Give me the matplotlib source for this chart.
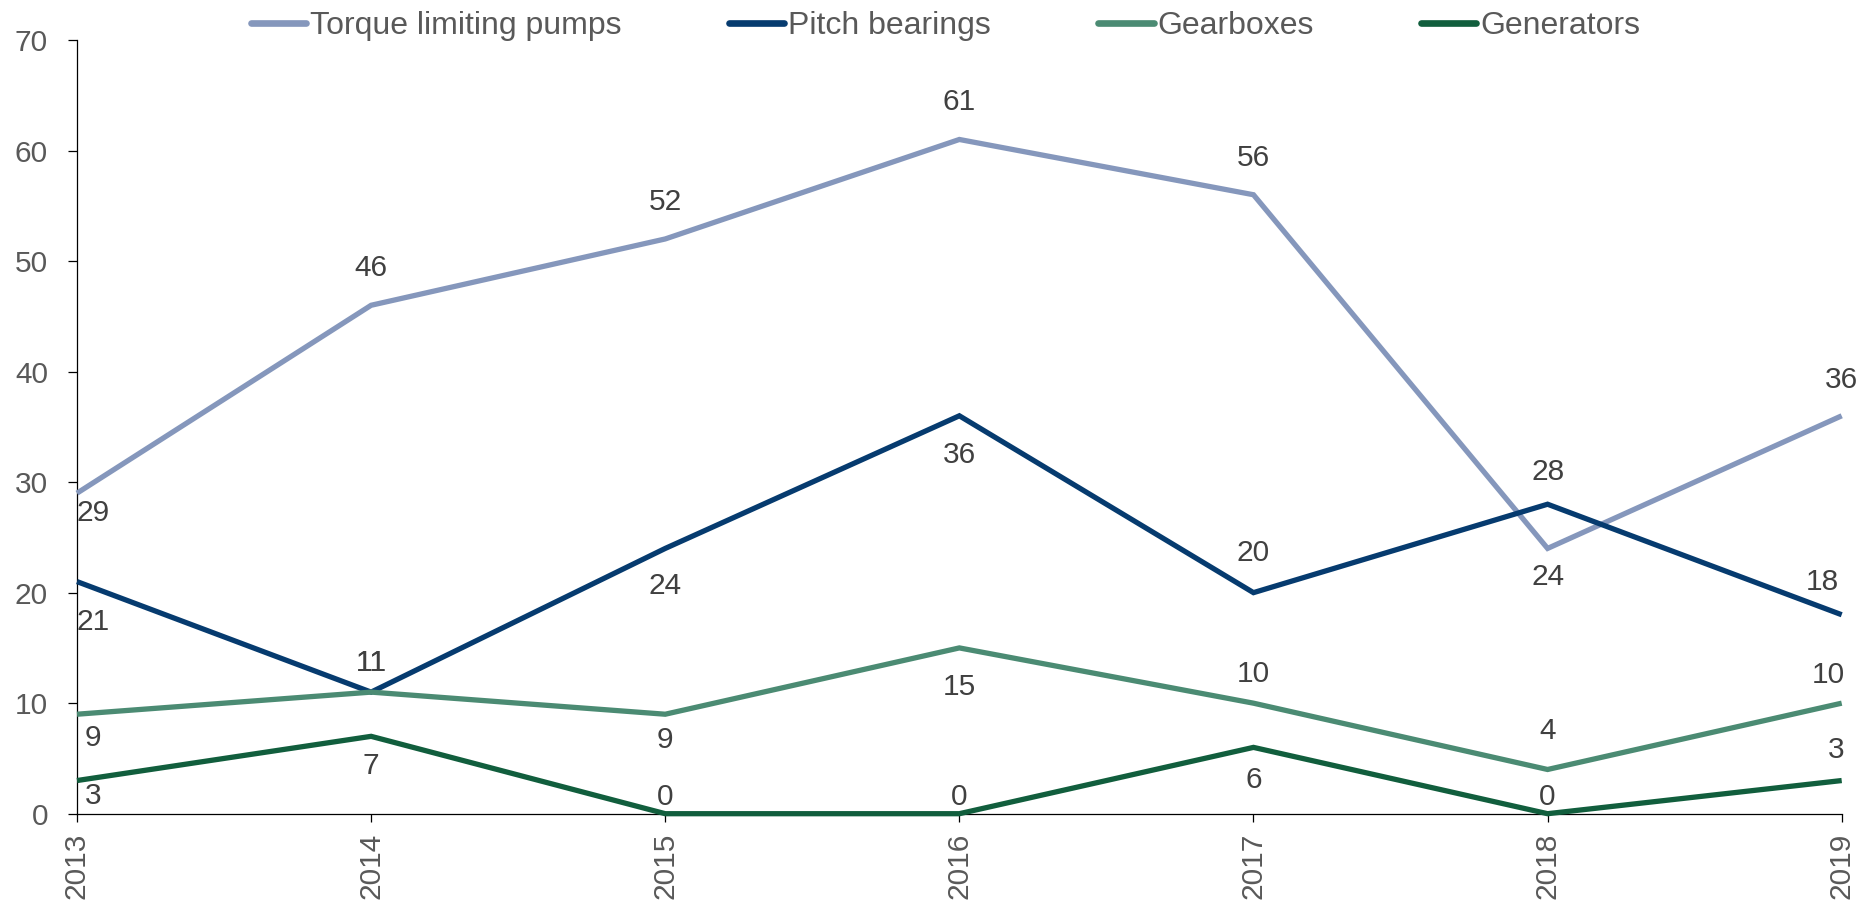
import matplotlib
matplotlib.use("Agg")
import matplotlib.pyplot as plt

plt.rcParams["font.family"] = ["Liberation Sans", "DejaVu Sans"]

# Component failure counts by year
years = [2013, 2014, 2015, 2016, 2017, 2018, 2019]
torque_pumps = [29, 46, 52, 61, 56, 24, 36]
pitch_bearings = [21, 11, 24, 36, 20, 28, 18]
gearboxes = [9, 11, 9, 15, 10, 4, 10]
generators = [3, 7, 0, 0, 6, 0, 3]

series_names = ["Torque limiting pumps", "Pitch bearings", "Gearboxes", "Generators"]
series_values = [torque_pumps, pitch_bearings, gearboxes, generators]
series_colors = ["#8597BC", "#063B6F", "#4B8B73", "#115E3D"]

# Data-label placement (pixel offsets from each point, +dy = up)
label_dy = [
    [-20, 37, 37, 37, 37, -29, 36],
    [-40, 29, -38, -39, 40, 32, 33],
    [-24, 29, -26, -39, 29, 38, 28],
    [-15, -30, 17, 17, -33, 17, 31],
]
label_dx_last = [0, -19, -13, -6]
label_dx_first = 16

DPI = 100
W, H = 1862, 905
PX = 72.0 / DPI  # points per pixel

fig = plt.figure(figsize=(W / DPI, H / DPI), dpi=DPI)
left, right, bottom, top = 77, 1841.7, 813.7, 40
ax = fig.add_axes([left / W, 1 - bottom / H, (right - left) / W, (bottom - top) / H])

for name, vals, col, dys, dxl in zip(series_names, series_values, series_colors,
                                     label_dy, label_dx_last):
    ax.plot(years, vals, color=col, lw=3.8, clip_on=False,
            solid_capstyle="butt", solid_joinstyle="miter", zorder=3)
    for i, (x, y) in enumerate(zip(years, vals)):
        dx = 0
        if i == 0:
            dx = label_dx_first
        elif i == len(years) - 1:
            dx = dxl
        ax.annotate(str(y), (x, y), xytext=(dx * PX, dys[i] * PX),
                    textcoords="offset points", ha="center", va="center",
                    fontsize=21.5, color="#404040", zorder=4,
                    annotation_clip=False)

ax.set_xlim(2013, 2019)
ax.set_ylim(0, 70)
ax.set_xticks(years)
ax.set_xticklabels([str(y) for y in years], rotation=90)
ax.set_yticks(range(0, 71, 10))

for s in ("top", "right"):
    ax.spines[s].set_visible(False)
for s in ("left", "bottom"):
    ax.spines[s].set_color("black")
    ax.spines[s].set_linewidth(0.9)

ax.tick_params(axis="y", direction="out", length=9 * PX, width=0.9,
               color="black", pad=20 * PX, labelsize=21.5, labelcolor="#595959")
ax.tick_params(axis="x", direction="out", length=8 * PX, width=0.9,
               color="black", pad=11 * PX, labelsize=21.5, labelcolor="#595959")

leg_handles = [plt.Line2D([], [], color=c, lw=4.8, solid_capstyle="round")
               for c in series_colors]
leg = fig.legend(leg_handles, series_names, loc="center",
                 bbox_to_anchor=(945.5 / W, 1 - 26 / H), ncol=4, frameon=False,
                 fontsize=23, handlelength=1.74, handletextpad=0.12,
                 columnspacing=3.35, borderpad=0, borderaxespad=0)
for t in leg.get_texts():
    t.set_color("#595959")

fig.savefig("out.png", dpi=DPI)
